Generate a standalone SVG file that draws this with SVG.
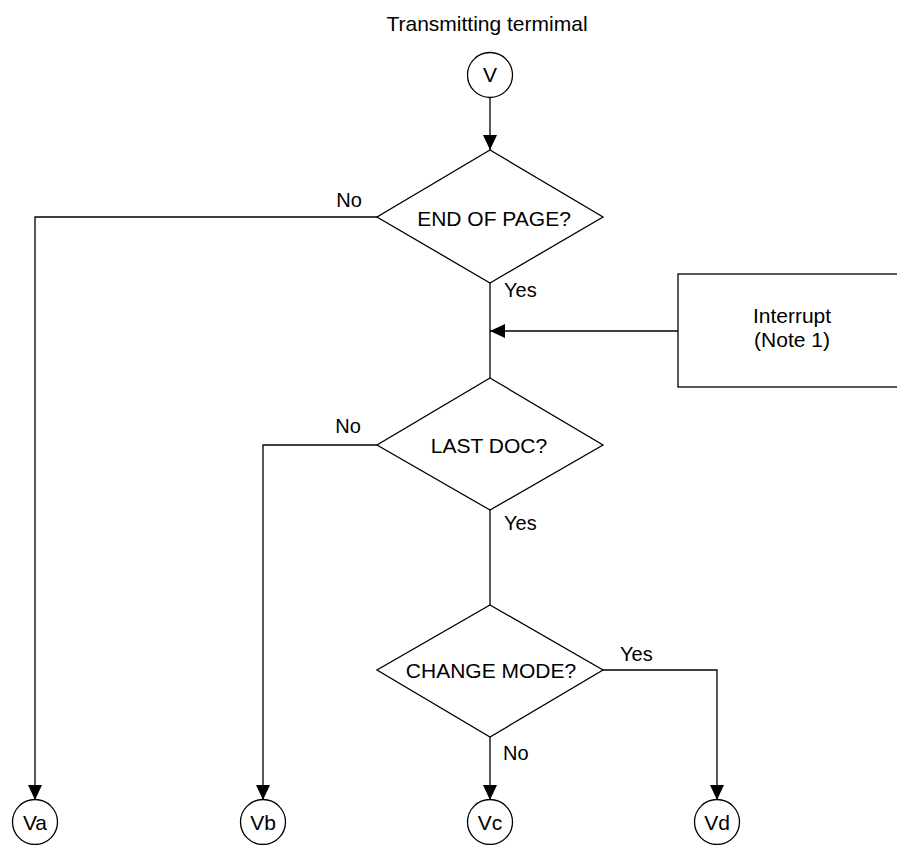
<svg xmlns="http://www.w3.org/2000/svg" width="897" height="845" viewBox="0 0 897 845">
  <defs>
    <marker id="arr" markerWidth="16" markerHeight="14" refX="15" refY="7" orient="auto" markerUnits="userSpaceOnUse">
      <path d="M0,0 L15,7 L0,14 Z" fill="#000"/>
    </marker>
    <style>
      .s { fill: #fff; stroke: #000; stroke-width: 1.3; }
      .c { fill: none; stroke: #000; stroke-width: 1.3; }
      .t { font-family: "Liberation Sans", Arial, sans-serif; font-size: 20px; fill: #000; }
      .b { font-size: 21px; }
      .m { text-anchor: middle; }
    </style>
  </defs>
  <rect width="897" height="845" fill="#fff"/>

  <text class="t b m" x="487" y="31">Transmitting termimal</text>

  <g id="connectors">
    <line class="c" x1="490" y1="97" x2="490" y2="150" marker-end="url(#arr)"/>
    <polyline class="c" points="377,217 35,217 35,800" marker-end="url(#arr)"/>
    <line class="c" x1="490" y1="283" x2="490" y2="378"/>
    <line class="c" x1="678" y1="331" x2="490" y2="331" marker-end="url(#arr)"/>
    <polyline class="c" points="377,445 263,445 263,800" marker-end="url(#arr)"/>
    <line class="c" x1="490" y1="510" x2="490" y2="605"/>
    <polyline class="c" points="603,670 717,670 717,800" marker-end="url(#arr)"/>
    <line class="c" x1="490" y1="737" x2="490" y2="800" marker-end="url(#arr)"/>
    <text class="t m" x="349" y="207">No</text>
    <text class="t" x="504" y="297">Yes</text>
    <text class="t m" x="348" y="433">No</text>
    <text class="t" x="504" y="530">Yes</text>
    <text class="t" x="620" y="661">Yes</text>
    <text class="t" x="503" y="760">No</text>
  </g>

  <g id="V">
    <circle class="s" cx="490" cy="75" r="22.5"/>
    <text class="t b m" x="490" y="82">V</text>
  </g>

  <g id="endofpage">
    <polygon class="s" points="490,150 603,217 490,283 377,217"/>
    <text class="t b m" x="494" y="226">END OF PAGE?</text>
  </g>

  <g id="interrupt">
    <rect class="s" x="678" y="274" width="240" height="113"/>
    <text class="t b m" x="792" y="323">Interrupt</text>
    <text class="t b m" x="792" y="347">(Note 1)</text>
  </g>

  <g id="lastdoc">
    <polygon class="s" points="490,378 603,445 490,510 377,445"/>
    <text class="t b m" x="489" y="453">LAST DOC?</text>
  </g>

  <g id="changemode">
    <polygon class="s" points="490,605 603,670 490,737 377,670"/>
    <text class="t b m" x="491" y="678">CHANGE MODE?</text>
  </g>

  <g id="Va">
    <circle class="s" cx="35" cy="822" r="22.5"/>
    <text class="t b m" x="35" y="830">Va</text>
  </g>
  <g id="Vb">
    <circle class="s" cx="263" cy="822" r="22.5"/>
    <text class="t b m" x="263" y="830">Vb</text>
  </g>
  <g id="Vc">
    <circle class="s" cx="490" cy="822" r="22.5"/>
    <text class="t b m" x="490" y="830">Vc</text>
  </g>
  <g id="Vd">
    <circle class="s" cx="717" cy="822" r="22.5"/>
    <text class="t b m" x="717" y="830">Vd</text>
  </g>
</svg>
